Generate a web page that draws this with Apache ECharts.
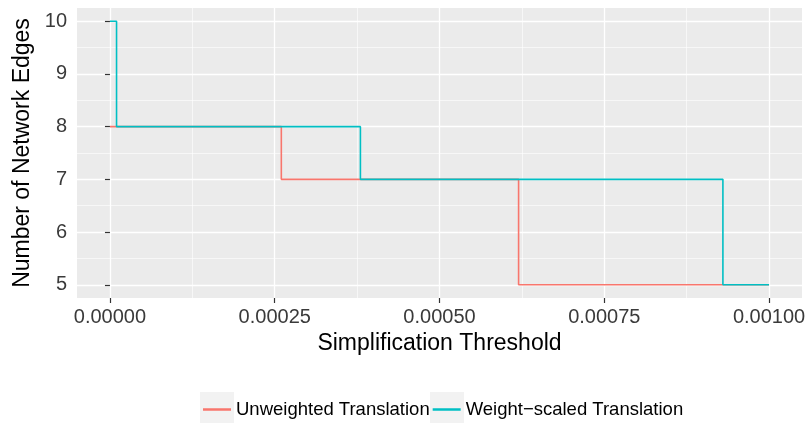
<!DOCTYPE html>
<html>
<head>
<meta charset="utf-8">
<script src="https://cdn.jsdelivr.net/npm/echarts@6/dist/echarts.min.js"></script>
<style>
html,body{margin:0;padding:0;background:#fff;}
#chart{width:809px;height:423px;}
</style>
</head>
<body>
<div id="chart"></div>
<script>
// ---- data ----
var seriesNames = ["Unweighted Translation", "Weight\u2212scaled Translation"];
var unweightedX = [0, 0.00026, 0.00062, 0.001];
var unweightedY = [8, 7, 5, 5];
var weightedX = [0, 0.00001, 0.00038, 0.00093, 0.001];
var weightedY = [10, 8, 7, 5, 5];
var xTicks = [0, 0.00025, 0.0005, 0.00075, 0.001];
var xMinorTicks = [0.000125, 0.000375, 0.000625, 0.000875];
var yTicks = [5, 6, 7, 8, 9, 10];
var yMinorTicks = [5.5, 6.5, 7.5, 8.5, 9.5];
var xRange = [-0.00005, 0.00105];
var yRange = [4.75, 10.25];

function pairs(xs, ys) { return xs.map(function (x, i) { return [x, ys[i]]; }); }

var FONT = "'Liberation Sans', Arial, Helvetica, sans-serif";
var chart = echarts.init(document.getElementById('chart'), null, { renderer: 'canvas' });

var hidden = { show: false };
var option = {
  backgroundColor: '#ffffff',
  animation: false,
  textStyle: { fontFamily: FONT },
  grid: {
    left: 77, right: 7, top: 8, bottom: 125,
    show: true, backgroundColor: '#EBEBEB', borderWidth: 0,
    containLabel: false
  },
  xAxis: [{
    type: 'value', min: xRange[0], max: xRange[1],
    axisLine: { show: false },
    axisTick: { show: true, length: 5, lineStyle: { color: '#333333', width: 1.2 }, customValues: xTicks },
    axisLabel: { show: true, customValues: xTicks, margin: 9, color: '#3A3A3A', fontSize: 20, fontFamily: FONT,
      formatter: function (v) { return v.toFixed(5); } },
    splitLine: { show: true, lineStyle: { color: '#ffffff', width: 1.3 } },
    name: 'Simplification Threshold', nameLocation: 'middle', nameGap: 23,
    nameTextStyle: { color: '#000000', fontSize: 23, fontFamily: FONT, verticalAlign: 'top' }
  }, {
    type: 'value', min: xRange[0], max: xRange[1],
    axisLine: hidden,
    axisTick: { show: false, customValues: xMinorTicks },
    axisLabel: { show: false, customValues: xMinorTicks },
    splitLine: { show: true, lineStyle: { color: '#ffffff', width: 0.6 } }
  }],
  yAxis: [{
    type: 'value', min: yRange[0], max: yRange[1], position: 'left',
    axisLine: { show: false },
    axisTick: { show: true, length: 5, lineStyle: { color: '#333333', width: 1.2 }, customValues: yTicks },
    axisLabel: { show: true, customValues: yTicks, margin: 10, color: '#3A3A3A', fontSize: 20, fontFamily: FONT,
      formatter: function (v) { return String(v); } },
    splitLine: { show: true, lineStyle: { color: '#ffffff', width: 1.3 } },
    name: 'Number of Network Edges', nameLocation: 'middle', nameGap: 39,
    nameTextStyle: { color: '#000000', fontSize: 23, fontFamily: FONT }
  }, {
    type: 'value', min: yRange[0], max: yRange[1], position: 'left', offset: 0,
    axisLine: hidden,
    axisTick: { show: false, customValues: yMinorTicks },
    axisLabel: { show: false, customValues: yMinorTicks },
    splitLine: { show: true, lineStyle: { color: '#ffffff', width: 0.6 } }
  }],
  legend: {
    show: true, orient: 'horizontal', left: 203, top: 400, padding: 0,
    itemWidth: 28, itemHeight: 2.5, itemGap: 3, icon: 'rect',
    textStyle: { color: '#000000', fontSize: 18.5, fontFamily: FONT },
    data: seriesNames
  },
  graphic: [
    { type: 'rect', left: 200, top: 392, z: -1, shape: { width: 34, height: 34 }, style: { fill: '#F2F2F2' } },
    { type: 'rect', left: 430, top: 392, z: -1, shape: { width: 34, height: 34 }, style: { fill: '#F2F2F2' } }
  ],
  series: [{
    name: seriesNames[0], type: 'line', step: 'end', xAxisIndex: 0, yAxisIndex: 0,
    data: pairs(unweightedX, unweightedY), showSymbol: false, symbol: 'none',
    itemStyle: { color: '#F8766D' }, lineStyle: { color: '#F8766D', width: 1.6 }, z: 2
  }, {
    name: seriesNames[1], type: 'line', step: 'end', xAxisIndex: 0, yAxisIndex: 0,
    data: pairs(weightedX, weightedY), showSymbol: false, symbol: 'none',
    itemStyle: { color: '#00BFC4' }, lineStyle: { color: '#00BFC4', width: 1.6 }, z: 3
  }]
};
chart.setOption(option);
</script>
</body>
</html>
